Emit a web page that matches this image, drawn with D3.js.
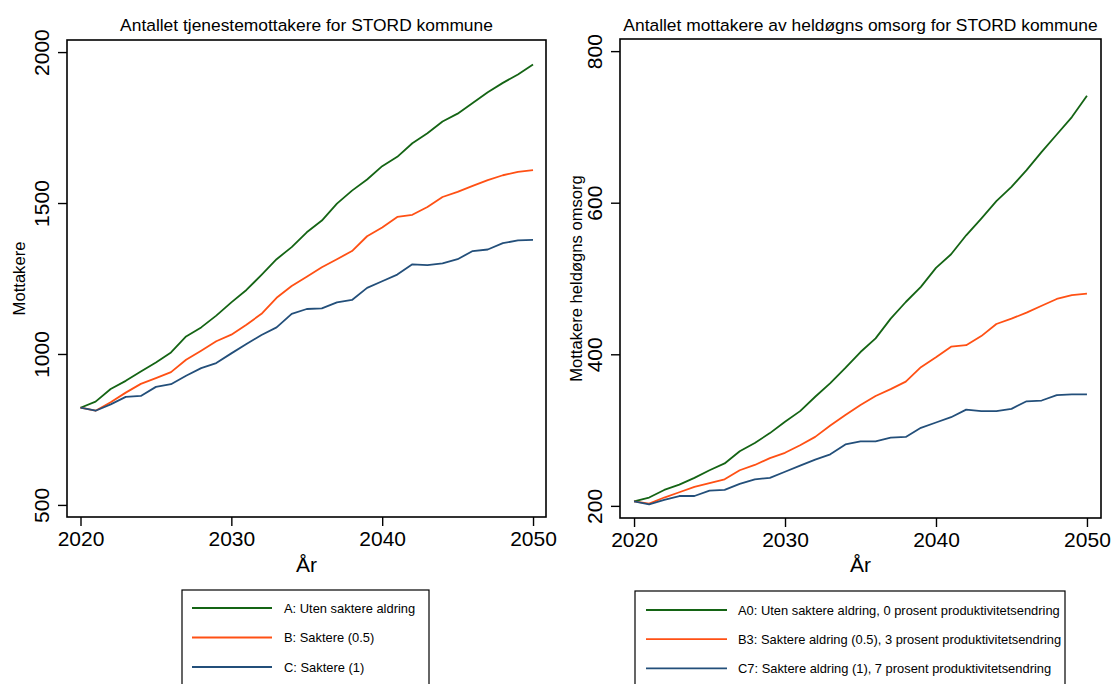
<!DOCTYPE html>
<html><head><meta charset="utf-8">
<script src="https://cdn.jsdelivr.net/npm/d3@7"></script>
<style>
html,body{margin:0;padding:0;background:#fff;}
svg{display:block;font-family:"Liberation Sans",Arial,Helvetica,sans-serif;}
</style></head>
<body>
<svg id="chart" width="1115" height="684"></svg>
<script>
const years = d3.range(2020, 2051);
const xTicks = [2020, 2030, 2040, 2050];

// Left panel: Antallet tjenestemottakere
const leftTitle = "Antallet tjenestemottakere for STORD kommune";
const leftYLabel = "Mottakere";
const leftYTicks = [500, 1000, 1500, 2000];
const leftNames = ["A: Uten saktere aldring", "B: Saktere (0.5)", "C: Saktere (1)"];
const leftA = [822,842,884,911,942,972,1005,1058,1088,1127,1171,1212,1262,1314,1354,1403,1442,1498,1541,1578,1622,1653,1698,1731,1770,1796,1831,1867,1898,1926,1959];
const leftB = [822,812,840,872,901,920,940,981,1011,1042,1064,1097,1133,1186,1225,1256,1287,1314,1341,1390,1419,1454,1461,1487,1520,1537,1557,1576,1592,1603,1609];
const leftC = [822,812,833,858,861,891,900,928,953,970,1002,1033,1063,1088,1133,1149,1151,1171,1179,1219,1241,1263,1297,1294,1300,1314,1341,1346,1367,1376,1378];

// Right panel: Antallet mottakere av heldøgns omsorg
const rightTitle = "Antallet mottakere av heldøgns omsorg for STORD kommune";
const rightYLabel = "Mottakere heldøgns omsorg";
const rightYTicks = [200, 400, 600, 800];
const rightNames = ["A0: Uten saktere aldring, 0 prosent produktivitetsendring", "B3: Saktere aldring (0.5), 3 prosent produktivitetsendring", "C7: Saktere aldring (1), 7 prosent produktivitetsendring"];
const rightA = [206,211,221,228,237,247,256,272,283,296,311,325,344,362,382,403,421,447,469,489,514,532,557,579,602,621,643,667,690,713,741];
const rightB = [206,203,211,218,225,230,235,247,254,263,270,280,291,306,320,333,345,354,364,383,396,410,412,424,440,447,455,464,473,478,480];
const rightC = [206,202,208,213,213,220,221,229,235,237,245,253,261,268,281,285,285,290,291,303,310,317,327,325,325,328,338,339,346,347,347];

const colors = ["#146414", "#ff5014", "#234f7a"];

const svg = d3.select("#chart");

function panel(cfg) {
  const {x0, x1, y0, y1, xDom, yDom, title, yLabel, yTicks, series, names, legend} = cfg;
  const x = d3.scaleLinear().domain(xDom).range([x0, x1]);
  const y = d3.scaleLinear().domain(yDom).range([y1, y0]);
  const g = svg.append("g");

  // lines
  const line = d3.line().x((d, i) => x(years[i])).y(d => y(d));
  series.forEach((s, k) => {
    g.append("path").datum(s).attr("d", line)
      .attr("fill", "none").attr("stroke", colors[k]).attr("stroke-width", 1.8)
      .attr("stroke-linejoin", "round");
  });

  // frame
  g.append("rect").attr("x", x0).attr("y", y0).attr("width", x1 - x0).attr("height", y1 - y0)
    .attr("fill", "none").attr("stroke", "#000").attr("stroke-width", 1.6);

  // x axis
  const xa = g.append("g").attr("transform", `translate(0,${y1})`)
    .call(d3.axisBottom(x).tickValues(xTicks).tickFormat(d3.format("d")).tickSize(9).tickSizeOuter(0));
  xa.select(".domain").remove();
  xa.selectAll(".tick line").attr("stroke", "#000").attr("stroke-width", 1.4);
  xa.selectAll(".tick text").attr("y", 29).attr("dy", 0)
    .attr("font-size", 21).attr("fill", "#000").attr("font-family", "Liberation Sans, Arial, sans-serif");

  // y axis
  const ya = g.append("g").attr("transform", `translate(${x0},0)`)
    .call(d3.axisLeft(y).tickValues(yTicks).tickFormat(d3.format("d")).tickSize(9).tickSizeOuter(0));
  ya.select(".domain").remove();
  ya.selectAll(".tick line").attr("stroke", "#000").attr("stroke-width", 1.4);
  ya.selectAll(".tick text").attr("x", 0).attr("dy", 0)
    .attr("transform", "translate(-18,0) rotate(-90)")
    .attr("text-anchor", "middle")
    .attr("font-size", 21).attr("fill", "#000").attr("font-family", "Liberation Sans, Arial, sans-serif");

  // title
  g.append("text").attr("x", (x0 + x1) / 2).attr("y", 31).attr("text-anchor", "middle")
    .attr("font-size", 17.4).attr("fill", "#000").text(title);
  // x label
  g.append("text").attr("x", (x0 + x1) / 2).attr("y", 572).attr("text-anchor", "middle")
    .attr("font-size", 21).attr("fill", "#000").text("År");
  // y label
  g.append("text").attr("transform", `translate(${cfg.yLabelX},${(y0 + y1) / 2}) rotate(-90)`)
    .attr("text-anchor", "middle").attr("font-size", 16.6).attr("fill", "#000").text(yLabel);

  // legend
  const L = legend;
  g.append("rect").attr("x", L.bx0).attr("y", L.by0).attr("width", L.bx1 - L.bx0).attr("height", 140)
    .attr("fill", "#fff").attr("stroke", "#000").attr("stroke-width", 1.2);
  names.forEach((n, k) => {
    const yy = L.ly0 + k * L.dy;
    g.append("line").attr("x1", L.lx0).attr("x2", L.lx1).attr("y1", yy).attr("y2", yy)
      .attr("stroke", colors[k]).attr("stroke-width", 1.8);
    g.append("text").attr("x", L.tx).attr("y", yy + 4.5).attr("font-size", 12.9).attr("fill", "#000").text(n);
  });
}

panel({
  x0: 67, x1: 546, y0: 40, y1: 517,
  xDom: [2019.105, 2050.86], yDom: [460, 2040],
  title: leftTitle, yLabel: leftYLabel, yTicks: leftYTicks, yLabelX: 25,
  series: [leftA, leftB, leftC], names: leftNames,
  legend: {bx0: 182, bx1: 429, by0: 590, lx0: 192, lx1: 272, tx: 284, ly0: 608, dy: 29.5}
});

panel({
  x0: 620, x1: 1101, y0: 39, y1: 518,
  xDom: [2019.07, 2050.93], yDom: [184, 816],
  title: rightTitle, yLabel: rightYLabel, yTicks: rightYTicks, yLabelX: 582,
  series: [rightA, rightB, rightC], names: rightNames,
  legend: {bx0: 635, bx1: 1065, by0: 591, lx0: 646, lx1: 727, tx: 738, ly0: 610, dy: 29.2}
});
</script>
</body></html>
